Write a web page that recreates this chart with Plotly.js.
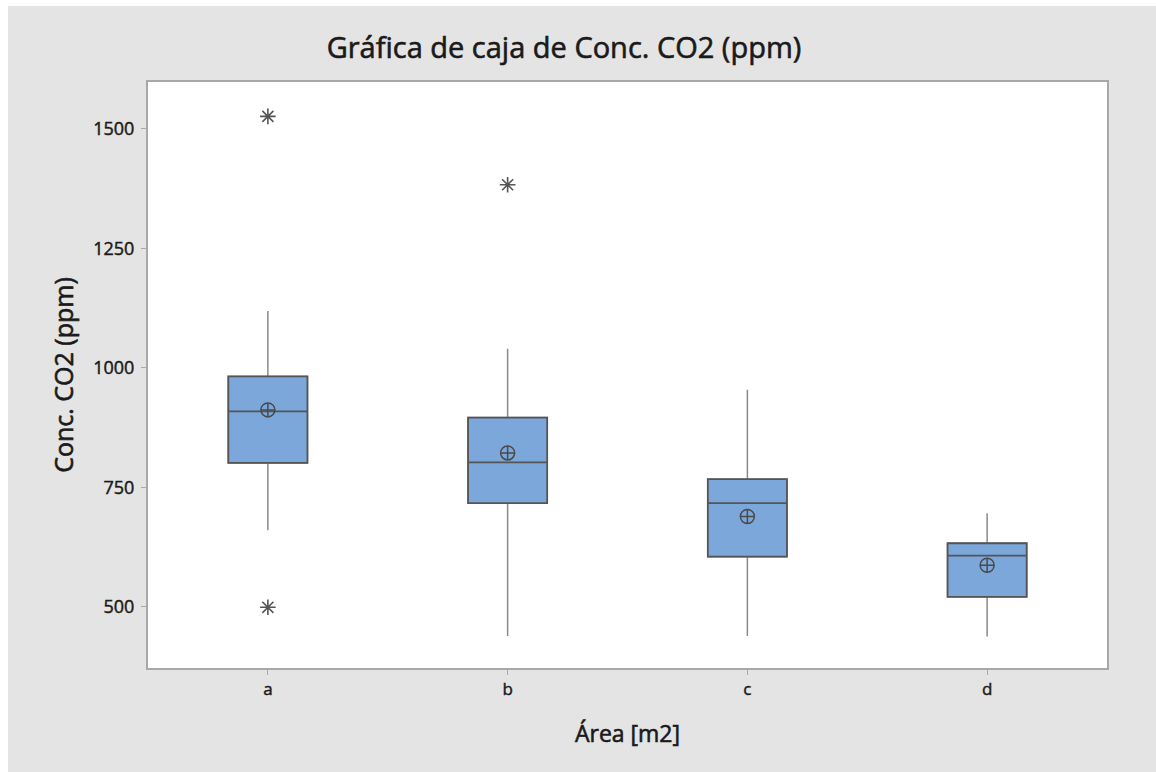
<!DOCTYPE html>
<html>
<head>
<meta charset="utf-8">
<script src="https://cdn.plot.ly/plotly-3.0.1.min.js"></script>
<style>
  html, body { margin: 0; padding: 0; background: #ffffff; }
  #chart { position: absolute; left: 8px; top: 6px; width: 1148px; height: 766px; }
  #chart svg text {
    stroke: #1a1a1a !important; stroke-width: 0.45px !important;
  }
  #chart .infolayer text {
    stroke-width: 0.6px !important;
  }
</style>
</head>
<body>
<div id="chart"></div>
<script>
const categories = ['a', 'b', 'c', 'd'];
const q1Values = [801, 717, 605, 521];
const medianValues = [909, 802, 717, 607];
const q3Values = [982, 896, 767, 633];
const lowerWhisker = [660, 439, 439, 438];
const upperWhisker = [1119, 1040, 954, 696];
const meanValues = [912, 822, 689, 587];
const outlierCategories = ['a', 'a', 'b'];
const outlierValues = [1526, 499, 1383];
const yTickValues = [500, 750, 1000, 1250, 1500];

const fontFam = '"Open Sans", "Noto Sans", sans-serif';
const txtColor = '#1a1a1a';

const whiskerTrace = {
  type: 'box', x: categories,
  q1: q1Values, median: medianValues, q3: q3Values,
  lowerfence: lowerWhisker, upperfence: upperWhisker,
  width: 0.33, whiskerwidth: 0,
  fillcolor: '#7ba7da', line: { color: '#8a8a8a', width: 1.5 },
  boxpoints: false, hoverinfo: 'skip', showlegend: false
};
const boxTrace = {
  type: 'box', x: categories,
  q1: q1Values, median: medianValues, q3: q3Values,
  lowerfence: q1Values, upperfence: q3Values,
  width: 0.33, whiskerwidth: 0,
  fillcolor: '#7ba7da', line: { color: '#555555', width: 1.8 },
  boxpoints: false, hoverinfo: 'skip', showlegend: false
};
const meanTrace = {
  type: 'scatter', mode: 'markers', x: categories, y: meanValues,
  marker: { symbol: 'circle-cross-open', size: 14, color: '#4a4a4a', line: { width: 1.5, color: '#4a4a4a' } },
  hoverinfo: 'skip', showlegend: false
};
const outlierTrace = {
  type: 'scatter', mode: 'markers', x: outlierCategories, y: outlierValues,
  marker: { symbol: 'asterisk-open', size: 13, color: '#555555', line: { width: 1.6, color: '#555555' } },
  hoverinfo: 'skip', showlegend: false
};

const layout = {
  width: 1148, height: 766,
  paper_bgcolor: '#e4e4e4', plot_bgcolor: '#ffffff',
  margin: { l: 140, r: 49, t: 76, b: 104 },
  boxmode: 'overlay',
  font: { family: fontFam, color: txtColor },
  title: { text: 'Gráfica de caja de Conc. CO2 (ppm)', font: { family: fontFam, size: 29, color: txtColor },
           x: 0.4843, xanchor: 'center', y: 0.945, yanchor: 'middle', yref: 'container' },
  xaxis: {
    type: 'category', range: [-0.5, 3.5],
    showline: true, mirror: true, linecolor: '#a8a8a8', linewidth: 2,
    ticks: 'outside', ticklen: 5, tickcolor: '#a8a8a8', tickwidth: 1,
    tickfont: { family: fontFam, size: 17, color: txtColor },
    showgrid: false, zeroline: false,
    title: { text: 'Área [m2]', font: { family: fontFam, size: 23, color: txtColor }, standoff: 26 }
  },
  yaxis: {
    range: [372, 1598], tickvals: yTickValues,
    showline: true, mirror: true, linecolor: '#a8a8a8', linewidth: 2,
    ticks: 'outside', ticklen: 5, tickcolor: '#a8a8a8', tickwidth: 1,
    ticklabelstandoff: 3,
    tickfont: { family: fontFam, size: 18, color: txtColor },
    showgrid: false, zeroline: false,
    title: { text: 'Conc. CO2 (ppm)', font: { family: fontFam, size: 25, color: txtColor }, standoff: 12 }
  }
};

Plotly.newPlot('chart', [whiskerTrace, boxTrace, meanTrace, outlierTrace], layout, { staticPlot: true, displayModeBar: false });
</script>
</body>
</html>
